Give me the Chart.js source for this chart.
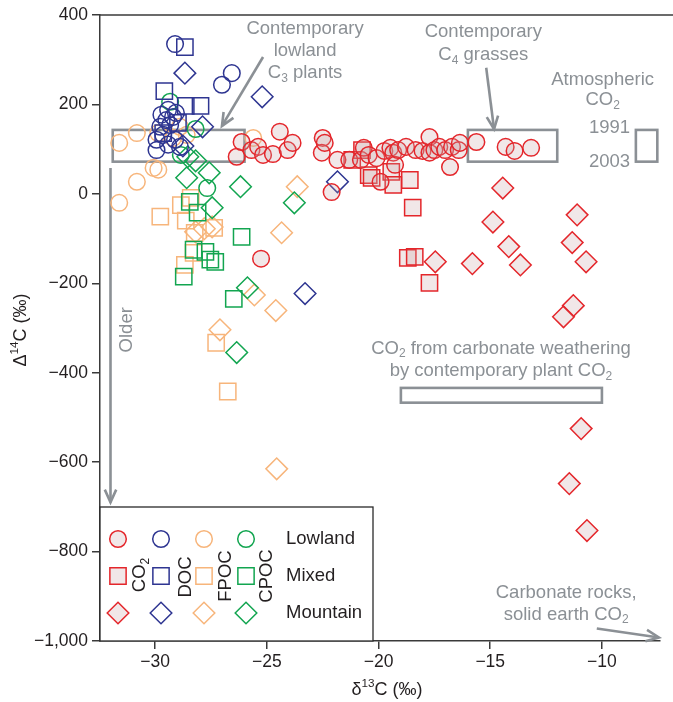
<!DOCTYPE html>
<html><head><meta charset="utf-8">
<script src="https://cdn.jsdelivr.net/npm/chart.js@4.4.0/dist/chart.umd.min.js"></script>
<style>html,body{margin:0;padding:0;background:#fff}#wrap{width:673px;height:702px}</style>
</head><body><div id="wrap"><canvas id="c" width="673" height="702"></canvas></div>
<script>
// ---- tick labels ----
const xTickValues = [-30, -25, -20, -15, -10];
const yTickValues = [400, 200, 0, -200, -400, -600, -800, -1000];

// ---- series: [δ13C, Δ14C] ----
const co2Lowland = [[-26.35,83],[-26.13,116],[-25.69,98],[-25.39,105],[-25.17,87],[-24.73,89],[-24.42,139],[-24.07,98],[-23.85,114],[-22.5,125],[-22.54,92],[-22.41,114],[-22.1,4],[-21.84,76],[-21.31,76],[-20.79,76],[-20.66,103],[-20.44,87],[-20.09,80],[-19.91,27],[-19.74,96],[-19.47,103],[-19.34,92],[-19.26,65],[-19.12,98],[-18.77,105],[-18.34,98],[-18.03,96],[-17.72,127],[-17.72,92],[-17.5,98],[-17.28,105],[-17.02,98],[-16.8,60],[-16.71,105],[-16.41,98],[-16.36,114],[-15.62,116],[-14.31,105],[-13.91,96],[-13.17,103],[-25.26,-145]];
const co2Mixed = [[-21.18,76],[-20.74,98],[-20.44,42],[-20.31,36],[-19.43,49],[-19.34,20],[-18.6,31],[-18.47,-31],[-18.69,-143],[-18.38,-141],[-17.72,-199]];
const co2Mountain = [[-14.44,13],[-14.88,-63],[-14.17,-118],[-13.65,-159],[-15.8,-156],[-17.46,-152],[-11.11,-47],[-11.33,-109],[-10.71,-152],[-11.28,-250],[-11.72,-275],[-10.93,-525],[-11.46,-648],[-10.67,-753]];
const docLowland = [[-29.11,335],[-27.01,244],[-26.57,270],[-29.72,177],[-29.42,188],[-29.2,172],[-29.5,165],[-29.07,181],[-29.77,150],[-29.94,121],[-29.94,98],[-29.42,110],[-29.11,121],[-29.64,132],[-29.33,154],[-28.89,105]];
const docMixed = [[-28.67,328],[-29.59,230],[-28.63,197],[-27.97,197],[-28.98,159],[-29.64,136]];
const docMountain = [[-28.67,270],[-25.21,217],[-27.88,150],[-21.84,27],[-23.29,-223],[-28.76,107]];
const fpocLowland = [[-31.61,114],[-30.82,136],[-29.86,136],[-29.2,125],[-28.89,150],[-28.59,132],[-30.07,58],[-29.86,54],[-30.82,27],[-31.61,-20],[-25.61,125]];
const fpocMixed = [[-29.77,-51],[-28.85,-25],[-28.41,-9],[-28.63,-60],[-28.23,-87],[-27.36,-76],[-28.28,-132],[-28.67,-159],[-27.27,-333],[-26.75,-442]];
const fpocMountain = [[-23.64,16],[-24.34,-87],[-25.56,-226],[-24.6,-261],[-27.1,-304],[-28.19,-85],[-27.8,-78],[-27.45,-74],[-24.56,-615]];
const cpocLowland = [[-29.33,206],[-28.19,145],[-28.85,87],[-27.67,13]];
const cpocMixed = [[-28.45,-18],[-28.1,-42],[-28.28,-125],[-27.75,-130],[-27.53,-147],[-27.31,-152],[-28.72,-185],[-26.13,-96],[-26.48,-235]];
const cpocMountain = [[-28.54,83],[-28.19,74],[-28.59,36],[-27.58,47],[-26.18,16],[-27.45,-31],[-23.77,-20],[-25.87,-210],[-26.35,-355]];

// ---- styling ----
const FONT = '"Liberation Sans", Arial, Helvetica, sans-serif';
const GRAY = '#8b9095';
const INK = '#231f20';
const RED = '#e4262b', RED_FILL = 'rgba(200,160,165,0.25)';
const BLUE = '#2e3591', ORANGE = '#f7b57b', GREEN = '#12a550';
const SHAPES = { Lowland: ['circle', 8.3], Mixed: ['rect', 11.5], Mountain: ['rectRot', 10.8] };
const NOTE_SIZE = 18.5, LEG_SIZE = 18.5, TITLE_SIZE = 18, TICK_SIZE = 17.5;

function ds(label, arr, color, fill, kind) {
  const [style, r] = SHAPES[kind];
  return { label, data: arr.map(([x, y]) => ({ x, y })), pointStyle: style, pointRadius: r, pointHoverRadius: r,
    borderColor: color, backgroundColor: fill, pointBorderWidth: 1.5, pointHoverBorderWidth: 1.5, showLine: false };
}
const datasets = [
  ds('CO2 Lowland', co2Lowland, RED, RED_FILL, 'Lowland'),
  ds('CO2 Mixed', co2Mixed, RED, RED_FILL, 'Mixed'),
  ds('CO2 Mountain', co2Mountain, RED, RED_FILL, 'Mountain'),
  ds('DOC Lowland', docLowland, BLUE, 'rgba(0,0,0,0)', 'Lowland'),
  ds('DOC Mixed', docMixed, BLUE, 'rgba(0,0,0,0)', 'Mixed'),
  ds('DOC Mountain', docMountain, BLUE, 'rgba(0,0,0,0)', 'Mountain'),
  ds('CPOC Lowland', cpocLowland, GREEN, 'rgba(0,0,0,0)', 'Lowland'),
  ds('CPOC Mixed', cpocMixed, GREEN, 'rgba(0,0,0,0)', 'Mixed'),
  ds('CPOC Mountain', cpocMountain, GREEN, 'rgba(0,0,0,0)', 'Mountain'),
  ds('FPOC Lowland', fpocLowland, ORANGE, 'rgba(0,0,0,0)', 'Lowland'),
  ds('FPOC Mixed', fpocMixed, ORANGE, 'rgba(0,0,0,0)', 'Mixed'),
  ds('FPOC Mountain', fpocMountain, ORANGE, 'rgba(0,0,0,0)', 'Mountain'),
];

// ---- annotations (data coordinates) ----
const noteRects = [[-31.9, 72, -26.0, 143], [-16.0, 72, -12.0, 143], [-8.48, 72, -7.52, 143], [-19.0, -467, -10.0, -434]];
const noteArrows = [[-25.17, 306, -27.01, 152], [-15.18, 282, -14.83, 145], [-32.0, 58, -32.0, -690], [-10.23, -972, -7.45, -992]];
const noteTexts = [
  [-23.29, 369, ['Contemporary']], [-23.29, 320, ['lowland']], [-23.29, 270, ['C', { sub: '3' }, ' plants']],
  [-15.31, 362, ['Contemporary']], [-15.31, 311, ['C', { sub: '4' }, ' grasses']],
  [-9.97, 255, ['Atmospheric']], [-9.97, 209, ['CO', { sub: '2' }]], [-9.66, 147, ['1991']], [-9.66, 72, ['2003']],
  [-14.52, -346, ['CO', { sub: '2' }, ' from carbonate weathering']], [-14.52, -396, ['by contemporary plant CO', { sub: '2' }]],
  [-11.6, -892, ['Carbonate rocks,']], [-11.6, -941, ['solid earth CO', { sub: '2' }]],
];

function partText(p) { return typeof p === 'string' ? p : (p.sub ?? p.sup); }
function richWidth(ctx, parts, size) {
  let w = 0;
  for (const p of parts) { ctx.font = `${typeof p === 'string' ? size : size * 0.65}px ${FONT}`; w += ctx.measureText(partText(p)).width; }
  return w;
}
function richDraw(ctx, parts, x, y, size, align) {
  const w = richWidth(ctx, parts, size);
  let cx = align === 'center' ? x - w / 2 : align === 'right' ? x - w : x;
  ctx.textAlign = 'left'; ctx.textBaseline = 'middle';
  for (const p of parts) {
    const small = typeof p !== 'string';
    ctx.font = `${small ? size * 0.65 : size}px ${FONT}`;
    const dy = !small ? 0 : (p.sub ? size * 0.3 : -size * 0.33);
    const t = partText(p);
    ctx.fillText(t, cx, y + dy);
    cx += ctx.measureText(t).width;
  }
}
function arrow(ctx, x1, y1, x2, y2) {
  ctx.beginPath(); ctx.moveTo(x1, y1); ctx.lineTo(x2, y2); ctx.stroke();
  const a = Math.atan2(y2 - y1, x2 - x1), L = 14, s = 0.42;
  ctx.beginPath();
  ctx.moveTo(x2 - L * Math.cos(a - s), y2 - L * Math.sin(a - s));
  ctx.lineTo(x2, y2);
  ctx.lineTo(x2 - L * Math.cos(a + s), y2 - L * Math.sin(a + s));
  ctx.stroke();
}

const decor = {
  id: 'decor',
  beforeDatasetsDraw(chart) {
    const { ctx, scales: { x, y } } = chart;
    ctx.save();
    ctx.strokeStyle = GRAY; ctx.lineWidth = 2.6;
    for (const [x1, y1, x2, y2] of noteRects) {
      const px1 = x.getPixelForValue(x1), px2 = x.getPixelForValue(x2);
      const py1 = y.getPixelForValue(y2), py2 = y.getPixelForValue(y1);
      ctx.strokeRect(px1, py1, px2 - px1, py2 - py1);
    }
    for (const [x1, y1, x2, y2] of noteArrows) {
      arrow(ctx, x.getPixelForValue(x1), y.getPixelForValue(y1), x.getPixelForValue(x2), y.getPixelForValue(y2));
    }
    ctx.restore();
  },
  afterDatasetsDraw(chart) {
    const { ctx, scales: { x, y }, chartArea: ca } = chart;
    ctx.save();
    ctx.strokeStyle = '#3a3a3a'; ctx.lineWidth = 1.5;
    ctx.beginPath(); ctx.moveTo(ca.left, ca.top); ctx.lineTo(673, ca.top); ctx.stroke();
    ctx.fillStyle = GRAY;
    for (const [vx, vy, parts] of noteTexts) richDraw(ctx, parts, x.getPixelForValue(vx), y.getPixelForValue(vy), NOTE_SIZE, 'center');
    ctx.save(); ctx.translate(x.getPixelForValue(-31.25), y.getPixelForValue(-304)); ctx.rotate(-Math.PI / 2);
    richDraw(ctx, ['Older'], 0, 0, NOTE_SIZE, 'center'); ctx.restore();

    // legend box
    const L = ca.left, B = ca.bottom, boxW = 273, boxH = 134;
    ctx.fillStyle = '#fff'; ctx.fillRect(L, B - boxH, boxW, boxH);
    ctx.strokeStyle = '#2a2a2a'; ctx.lineWidth = 1.3; ctx.strokeRect(L, B - boxH, boxW, boxH);
    const rows = [['Lowland', B - 102], ['Mixed', B - 65], ['Mountain', B - 28]];
    const cols = [[RED, RED_FILL, 18], [BLUE, '#fff', 61], [ORANGE, '#fff', 104], [GREEN, '#fff', 146]];
    for (const [kind, ry] of rows) {
      const [style, r] = SHAPES[kind];
      for (const [c, f, cx] of cols) {
        ctx.strokeStyle = c; ctx.fillStyle = f; ctx.lineWidth = 1.5;
        Chart.helpers.drawPoint(ctx, { pointStyle: style, radius: r, borderWidth: 1.5, rotation: 0 }, L + cx, ry);
      }
      ctx.fillStyle = INK;
      richDraw(ctx, [kind], L + 186, ry, LEG_SIZE, 'left');
    }
    const vlabels = [[['CO', { sub: '2' }], 40, B - 66], [['DOC'], 86, B - 64], [['FPOC'], 126, B - 65], [['CPOC'], 167, B - 65]];
    ctx.fillStyle = INK;
    for (const [parts, vx, vy] of vlabels) {
      ctx.save(); ctx.translate(L + vx, vy); ctx.rotate(-Math.PI / 2);
      richDraw(ctx, parts, 0, 0, LEG_SIZE, 'center'); ctx.restore();
    }
    // axis titles
    ctx.fillStyle = INK;
    richDraw(ctx, ['δ', { sup: '13' }, 'C (‰)'], 387, 690, TITLE_SIZE, 'center');
    ctx.save(); ctx.translate(21, 330); ctx.rotate(-Math.PI / 2);
    richDraw(ctx, ['Δ', { sup: '14' }, 'C (‰)'], 0, 0, TITLE_SIZE, 'center'); ctx.restore();
    ctx.restore();
  }
};

function fmt(v) {
  const s = Math.abs(v).toLocaleString('en-US');
  return v < 0 ? '\u2212' + s : s;
}

Chart.defaults.font.family = FONT;
new Chart(document.getElementById('c'), {
  type: 'scatter',
  data: { datasets },
  options: {
    responsive: false, animation: false, devicePixelRatio: 1,
    layout: { padding: { top: 15, right: 0, left: 0, bottom: 0 } },
    plugins: { legend: { display: false }, tooltip: { enabled: false } },
    scales: {
      x: {
        type: 'linear', min: -32.47, max: -7.4,
        afterFit(s) { s.height = 61; },
        afterBuildTicks(s) { s.ticks = xTickValues.map(v => ({ value: v })); },
        border: { display: true, color: '#3a3a3a', width: 1.5 },
        grid: { display: true, drawOnChartArea: false, drawTicks: true, tickLength: 8, color: '#3a3a3a', lineWidth: 1.5 },
        ticks: { color: INK, font: { size: TICK_SIZE }, padding: 3, maxRotation: 0, callback: v => fmt(v) },
        title: { display: false }
      },
      y: {
        type: 'linear', min: -1000, max: 400,
        afterFit(s) { s.width = 100; },
        afterBuildTicks(s) { s.ticks = yTickValues.map(v => ({ value: v })); },
        border: { display: true, color: '#3a3a3a', width: 1.5 },
        grid: { display: true, drawOnChartArea: false, drawTicks: true, tickLength: 8, color: '#3a3a3a', lineWidth: 1.5 },
        ticks: { color: INK, font: { size: TICK_SIZE }, padding: 4, callback: v => fmt(v) },
        title: { display: false }
      }
    }
  },
  plugins: [decor]
});
</script></body></html>
